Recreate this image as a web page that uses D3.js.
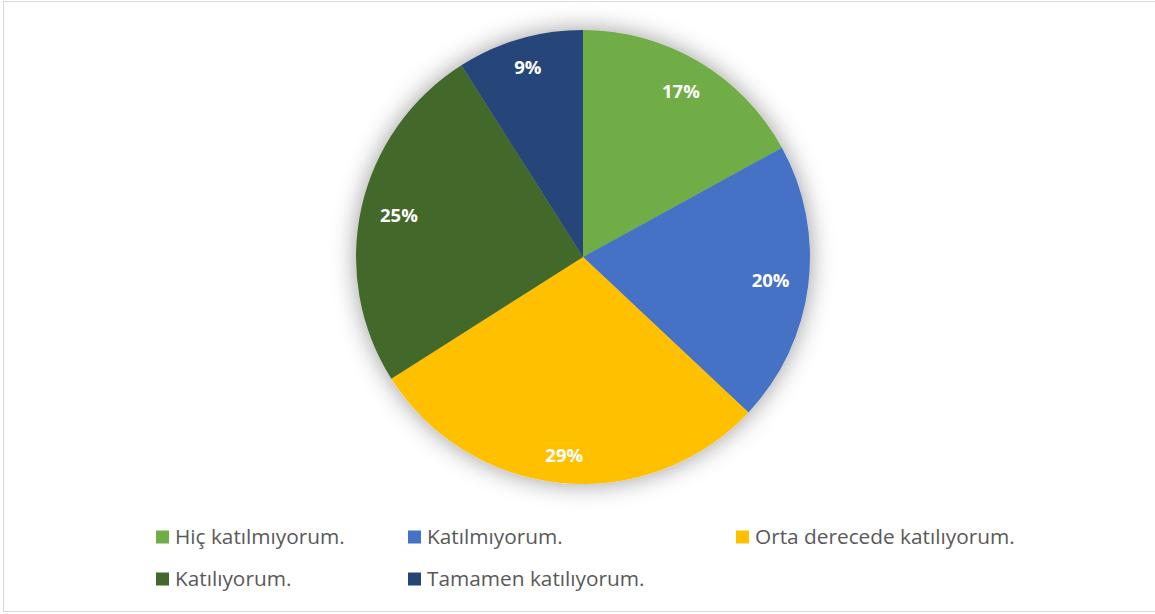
<!DOCTYPE html>
<html><head><meta charset="utf-8">
<script src="https://cdn.jsdelivr.net/npm/d3@7"></script>
<style>body{margin:0;background:#fff;}svg{display:block;}</style>
</head><body>
<script>
const categories = ["Hiç katılmıyorum.", "Katılmıyorum.", "Orta derecede katılıyorum.", "Katılıyorum.", "Tamamen katılıyorum."];
const values = [17, 20, 29, 25, 9];
const colors = ["#70AD47", "#4472C4", "#FFC000", "#43682B", "#264478"];

const W = 1155, H = 614;
const svg = d3.select("body").append("svg").attr("width", W).attr("height", H);
const defs = svg.append("defs");
const f = defs.append("filter").attr("id","sh").attr("x","-20%").attr("y","-20%").attr("width","140%").attr("height","140%");
f.append("feDropShadow").attr("dx",0).attr("dy",0).attr("stdDeviation",12).attr("flood-color","#000").attr("flood-opacity",0.4);

svg.append("rect").attr("x",3.5).attr("y",1.5).attr("width",1160).attr("height",610)
  .attr("fill","#fff").attr("stroke","#d9d9d9").attr("stroke-width",1);

const cx = 583, cy = 257, R = 227;
const pie = d3.pie().sort(null).value(d=>d)(values);
const arc = d3.arc().innerRadius(0).outerRadius(R);
const g = svg.append("g").attr("transform",`translate(${cx},${cy})`);
g.append("g").attr("filter","url(#sh)").selectAll("path").data(pie).join("path")
  .attr("d",arc).attr("fill",(d,i)=>colors[i]);
// inside-end label placement
const pad = 18;
g.selectAll("text").data(pie).join("text")
  .attr("text-anchor","middle").attr("dy","0.35em")
  .attr("fill","#fff").attr("font-family","'Open Sans', sans-serif").attr("font-weight","bold").attr("font-size",18.5)
  .text(d=>d.data+"%")
  .each(function(d){
    const bb = this.getBBox();
    const a = (d.startAngle+d.endAngle)/2;
    const hw = bb.width/2, hh = 8;
    const ext = Math.abs(Math.sin(a))*hw + Math.abs(Math.cos(a))*hh;
    const r = R - pad - ext;
    d3.select(this).attr("transform",`translate(${r*Math.sin(a)},${-r*Math.cos(a)})`);
  });

const legendPos = [[156,537],[408,537],[736,537],[156,579],[408,579]];
const lg = svg.append("g");
categories.forEach((c,i)=>{
  const [x,y] = legendPos[i];
  lg.append("rect").attr("x",x).attr("y",y-6.5).attr("width",13).attr("height",13).attr("fill",colors[i]);
  lg.append("text").attr("x",x+19).attr("y",y).attr("dy","0.35em")
    .attr("fill","#595959").attr("font-family","'Open Sans', sans-serif").attr("font-size",20.8).text(c);
});
</script>
</body></html>
